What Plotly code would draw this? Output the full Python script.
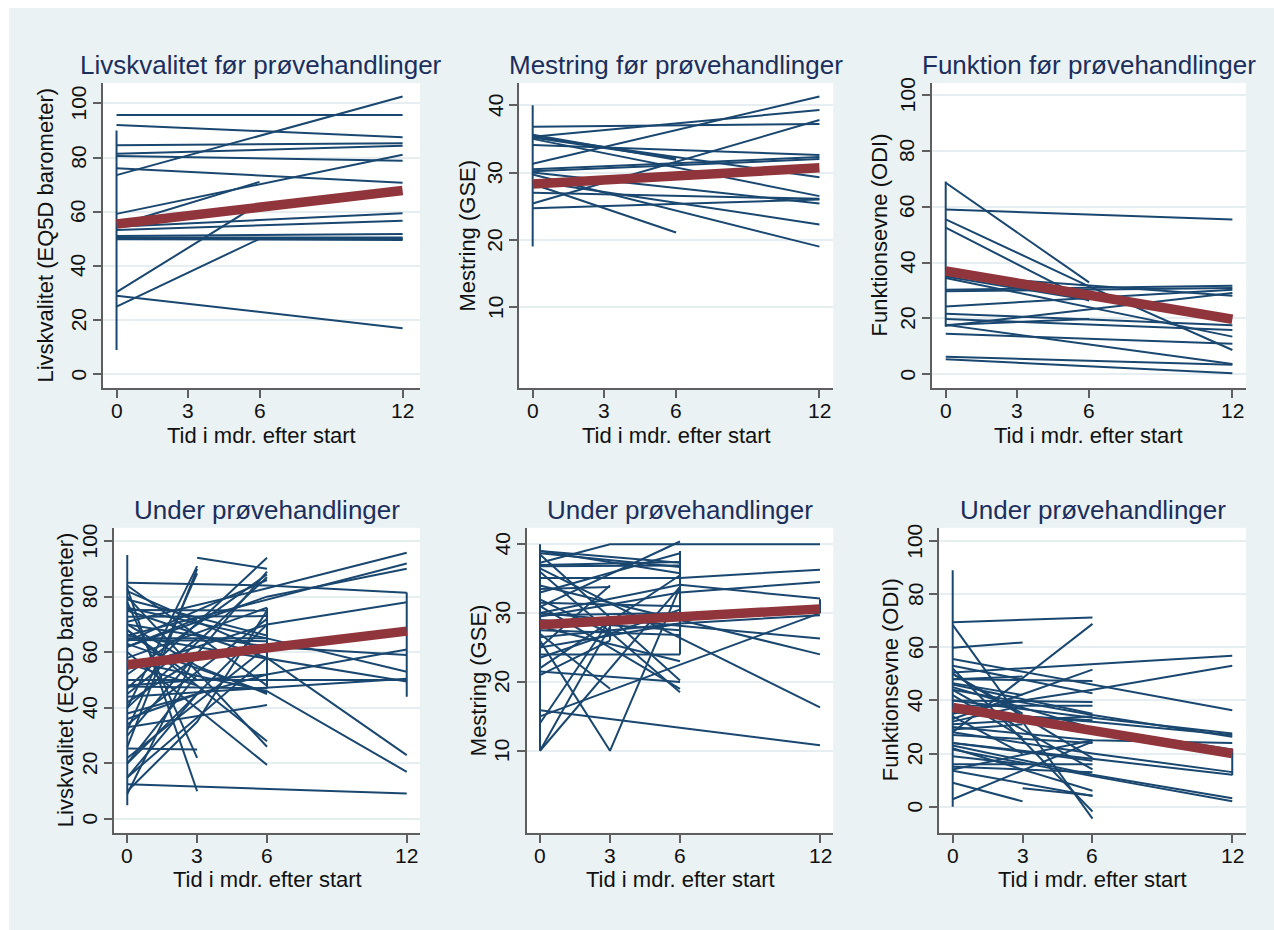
import plotly.graph_objects as go

W, H = 1274, 930
times = [0, 3, 6, 12]
mean_times = [0, 12]

# ---- values per subject at months 0, 3, 6, 12 (None = not measured) ----
lq_pre = [
    [95.7, None, None, 95.7], [92.0, None, None, 87.5], [73.5, None, None, 102.5],
    [84.5, None, None, 85.3], [81.4, None, None, 84.3], [80.6, None, None, 78.8],
    [76.0, None, None, 70.7], [59.2, None, None, 81.0], [55.0, None, 71.0, None],
    [54.5, None, None, 59.4], [53.3, None, None, 56.7], [51.0, None, None, 51.8],
    [50.5, None, None, 50.5], [50.0, None, None, 50.0], [49.8, None, None, 49.6],
    [30.3, None, 63.0, None], [25.0, None, 50.0, 50.0], [29.0, None, None, 17.0],
]
lq_pre_vert = [(0, 9, 90)]
lq_pre_mean = [55.5, 67.8]

gse_pre = [
    [36.8, None, None, 37.2], [35.3, None, None, 39.3], [31.3, None, None, 41.3],
    [25.4, None, None, 37.8], [34.1, None, None, 32.6], [30.5, None, None, 32.3],
    [35.2, None, 32.1, None], [35.6, None, 31.9, None], [35.3, None, None, 29.3],
    [35.0, None, None, 26.5], [30.0, None, None, 25.4], [27.0, None, None, 26.1],
    [24.7, None, None, 26.0], [29.7, None, None, 19.0], [28.7, None, None, 22.3],
    [28.3, None, 21.1, None], [30.2, None, None, 32.0],
]
gse_pre_vert = [(0, 19, 40)]
gse_pre_mean = [28.3, 30.7]

odi_pre = [
    [68.6, None, 32.9, None], [59.0, None, None, 55.4], [55.5, None, 31.5, 8.7],
    [52.5, None, 26.3, None], [35.0, None, 26.6, None], [30.3, None, None, 31.7],
    [29.7, None, None, 30.9], [34.5, None, None, 13.5], [35.5, None, None, 28.1],
    [24.3, None, None, 30.3], [17.4, None, None, 29.1], [17.7, None, 19.8, None],
    [21.7, None, None, 17.6], [19.8, None, None, 15.9], [14.5, None, None, 10.9],
    [17.7, None, None, 3.7], [6.3, None, None, 3.4], [5.4, None, None, 0.4],
]
odi_pre_vert = [(0, 17, 69)]
odi_pre_mean = [37.0, 19.7]

lq_dur = [
    [71.0, None, 83.0, 95.8], [66.0, None, 79.0, 91.9], [62.0, None, 80.0, 90.0],
    [85.0, None, 84.0, 81.4], [54.0, None, 70.0, 78.0], [48.0, None, 52.0, 61.0],
    [70.0, None, 62.0, 59.0], [76.0, None, 65.0, 53.0], [50.0, None, 50.0, 50.0],
    [44.0, None, None, 50.5], [66.0, None, None, 49.5], [75.0, None, 58.0, 23.0],
    [57.0, None, 46.0, 17.0], [12.5, None, None, 9.2], [47.0, None, 94.0, None],
    [None, 94.0, 90.0, None], [30.0, None, 89.0, None], [52.0, None, 88.0, None],
    [40.0, None, 87.0, None], [64.0, None, 86.0, None], [58.0, None, 76.0, None],
    [75.2, None, 75.0, None], [72.8, None, 73.0, None], [34.0, None, 72.0, None],
    [20.0, None, 70.0, None], [65.0, None, 65.0, None], [64.4, None, 64.0, None],
    [82.0, None, 60.0, None], [15.0, None, 58.0, None], [84.0, None, 48.0, None],
    [63.0, None, 45.5, None], [33.0, None, 41.0, None], [68.0, None, 28.0, None],
    [80.0, None, 26.0, None], [60.0, None, 19.5, None], [47.7, None, 47.0, None],
    [40.0, 91.0, None, None], [26.0, 90.0, None, None], [32.0, 88.4, None, None],
    [25.4, 25.0, None, None], [78.0, 22.0, None, None], [83.0, 10.0, None, None],
    [9.0, 60.0, None, None], [20.0, 52.0, None, None], [62.0, 72.0, None, None],
    [45.0, 65.0, None, None], [15.0, 45.0, None, None], [10.0, 35.0, 75.0, None],
    [70.0, 55.0, 45.0, None], [56.0, 48.0, None, None], [38.0, None, 52.0, None],
    [79.0, None, 66.0, None], [42.0, 58.0, None, None], [68.0, 50.0, None, None],
    [22.0, None, 62.0, None], [36.0, 45.0, None, None],
]
lq_dur_vert = [(0, 5, 95), (6, 47, 76), (12, 44, 81.5)]
lq_dur_mean = [55.5, 67.6]

gse_dur = [
    [37.3, 40.0, None, 40.0], [30.9, None, 40.4, None], [39.0, None, 37.3, None],
    [38.7, None, 36.7, None], [37.0, None, 37.4, None], [39.0, None, 35.8, None],
    [26.0, 10.0, 33.8, None], [10.0, None, 33.8, None], [10.0, 28.0, None, None],
    [15.9, None, None, 10.8], [36.5, None, None, 16.3], [34.0, None, None, 24.0],
    [30.0, None, None, 26.3], [29.5, None, 33.0, 34.5], [35.1, None, 35.1, 36.3],
    [30.0, None, 34.1, 32.1], [15.0, None, None, 30.0], [25.0, None, 28.5, 29.7],
    [27.0, 19.0, None, None], [31.0, None, 19.0, None], [36.0, None, 18.5, None],
    [38.5, None, 20.2, None], [28.0, None, 23.0, None], [24.0, None, 24.0, None],
    [33.0, None, 38.7, None], [22.0, None, 35.5, None], [29.0, None, 27.5, None],
    [26.5, None, 28.5, None], [23.5, None, 30.5, None], [32.0, 27.0, None, None],
    [21.0, 26.0, None, None], [14.0, 29.0, None, None], [36.8, None, 36.9, None],
    [27.5, None, 26.8, None], [25.0, 34.0, None, None], [31.5, None, 31.0, None],
    [29.7, None, 30.0, None], [21.5, None, 20.0, None], [33.5, 33.8, None, None],
]
gse_dur_vert = [(0, 10, 40), (3, 26, 29), (6, 24, 39), (12, 30, 32)]
gse_dur_mean = [28.3, 30.6]

odi_dur = [
    [69.4, None, 71.2, None], [68.4, None, -4.5, None], [28.0, None, 68.8, None],
    [59.8, 61.8, None, None], [50.5, None, None, 56.8], [55.6, None, None, 36.3],
    [35.0, 40.0, 44.0, 53.0], [33.0, None, 51.6, None], [52.0, None, -1.8, None],
    [9.0, 2.0, None, None], [2.8, None, 24.5, None], [None, 6.9, 4.2, None],
    [23.0, None, 12.0, 3.2], [21.5, None, 11.5, 2.0], [28.0, None, 20.0, 13.0],
    [24.0, None, 18.0, 12.0], [40.0, None, 33.5, 27.5], [36.0, None, 32.0, 27.0],
    [44.0, None, 34.5, 26.3], [30.0, None, 25.0, 24.0], [38.0, None, 29.5, 21.5],
    [48.0, None, 47.3, None], [53.0, None, 42.7, None], [40.0, None, 39.4, None],
    [46.0, None, 35.0, None], [31.0, None, 34.0, None], [35.5, None, 32.5, None],
    [45.0, None, 29.5, None], [14.0, None, 25.0, None], [27.0, None, 24.0, None],
    [50.0, None, 18.3, None], [24.0, None, 17.3, None], [16.0, None, 16.0, None],
    [44.0, None, 14.0, None], [15.0, None, 13.0, None], [22.0, None, 6.0, None],
    [13.5, None, 4.0, None], [48.0, 49.0, None, None], [46.5, 42.0, None, None],
    [34.0, 20.0, None, None], [32.0, 38.0, None, None], [42.0, 26.0, None, None],
    [29.0, 31.0, None, None], [19.0, 16.0, None, None], [38.0, None, 38.0, None],
    [50.0, 35.0, None, None],
]
odi_dur_vert = [(0, 0, 89), (12, 11.8, 21.8)]
odi_dur_mean = [37.3, 20.0]

titles = ["Livskvalitet før prøvehandlinger", "Mestring før prøvehandlinger",
          "Funktion før prøvehandlinger", "Under prøvehandlinger",
          "Under prøvehandlinger", "Under prøvehandlinger"]
ytitles = ["Livskvalitet (EQ5D barometer)", "Mestring (GSE)", "Funktionsevne (ODI)",
           "Livskvalitet (EQ5D barometer)", "Mestring (GSE)", "Funktionsevne (ODI)"]
xtitle = "Tid i mdr. efter start"
x_ticks = [0, 3, 6, 12]
y_ticks_100 = [0, 20, 40, 60, 80, 100]
y_ticks_gse = [10, 20, 30, 40]

NAVY = "#1A476F"
MAROON = "#90353B"
BG = "#EAF2F3"
GRID = "#E6EEF1"
AXIS_C = "#5F5F5F"
TITLE_C = "#1C2E5C"
TEXT_C = "#111111"
FONT = "Liberation Sans, Arial, Helvetica, sans-serif"

# panel geometry in pixels: (left, right, top, bottom), axis ranges
panels = [
    dict(rows=lq_pre, vert=lq_pre_vert, mean=lq_pre_mean, box=(102.7, 420, 83, 388),
         xr=[-0.58, 12.73], yr=[-5.05, 107.5], yt=y_ticks_100, ytx=45),
    dict(rows=gse_pre, vert=gse_pre_vert, mean=gse_pre_mean, box=(519.3, 833.3, 83, 388),
         xr=[-0.56, 12.58], yr=[-2.0, 43.3], yt=y_ticks_gse, ytx=467),
    dict(rows=odi_pre, vert=odi_pre_vert, mean=odi_pre_mean, box=(931.7, 1246, 83, 388),
         xr=[-0.586, 12.57], yr=[-4.9, 104.3], yt=y_ticks_100, ytx=879),
    dict(rows=lq_dur, vert=lq_dur_vert, mean=lq_dur_mean, box=(114, 420, 527.7, 832.7),
         xr=[-0.57, 12.57], yr=[-4.9, 104.8], yt=y_ticks_100, ytx=65),
    dict(rows=gse_dur, vert=gse_dur_vert, mean=gse_dur_mean, box=(526.7, 833.3, 527.7, 832.7),
         xr=[-0.57, 12.57], yr=[-1.9, 42.4], yt=y_ticks_gse, ytx=478),
    dict(rows=odi_dur, vert=odi_dur_vert, mean=odi_dur_mean, box=(939.3, 1246, 527.7, 832.7),
         xr=[-0.575, 12.59], yr=[-9.8, 105.0], yt=y_ticks_100, ytx=890),
]


def spaghetti(rows, vert):
    xs, ys = [], []
    for r in rows:
        for t, v in zip(times, r):
            if v is not None:
                xs.append(t)
                ys.append(v)
        xs.append(None)
        ys.append(None)
    for t, lo, hi in vert:
        xs += [t, t, None]
        ys += [lo, hi, None]
    return xs, ys


fig = go.Figure()
annotations = []
shapes = [dict(type="rect", xref="paper", yref="paper", x0=9 / W, x1=1.0, y0=0.0,
               y1=1 - 8 / H, fillcolor=BG, line=dict(width=0), layer="below")]

for i, p in enumerate(panels):
    n = i + 1
    xa = "x" if n == 1 else f"x{n}"
    ya = "y" if n == 1 else f"y{n}"
    xs, ys = spaghetti(p["rows"], p["vert"])
    fig.add_trace(go.Scatter(x=xs, y=ys, mode="lines", xaxis=xa, yaxis=ya,
                             line=dict(color=NAVY, width=2), connectgaps=False,
                             hoverinfo="skip", showlegend=False))
    fig.add_trace(go.Scatter(x=mean_times, y=p["mean"], mode="lines", xaxis=xa, yaxis=ya,
                             line=dict(color=MAROON, width=9.5), showlegend=False))
    l, r, t, b = p["box"]
    xd = [l / W, r / W]
    yd = [1 - b / H, 1 - t / H]
    axis_common = dict(showline=True, linecolor=AXIS_C, linewidth=2,
                       ticks="outside", ticklen=8, tickwidth=2, tickcolor=AXIS_C,
                       zeroline=False, showticklabels=False)
    fig.update_layout(**{
        ("xaxis" if n == 1 else f"xaxis{n}"): dict(
            domain=xd, range=p["xr"], tickvals=x_ticks, showgrid=False,
            anchor=ya, **axis_common),
        ("yaxis" if n == 1 else f"yaxis{n}"): dict(
            domain=yd, range=p["yr"], tickvals=p["yt"], showgrid=True,
            gridcolor=GRID, gridwidth=2, anchor=xa, **axis_common),
    })
    # plot area background
    shapes.append(dict(type="rect", xref="paper", yref="paper", x0=xd[0], x1=xd[1],
                       y0=yd[0], y1=yd[1], fillcolor="white", line=dict(width=0),
                       layer="below"))
    # tick labels placed explicitly (Stata-like spacing)
    for tv in x_ticks:
        annotations.append(dict(text=str(tv), x=tv, xref=xa, y=1 - (b + 22.5) / H,
                                yref="paper", showarrow=False, xanchor="center",
                                yanchor="middle",
                                font=dict(size=21, color=TEXT_C, family=FONT)))
    for tv in p["yt"]:
        annotations.append(dict(text=str(tv), x=(l - 24.5) / W, xref="paper", y=tv,
                                yref=ya, showarrow=False, xanchor="center",
                                yanchor="middle", textangle=-90,
                                font=dict(size=21, color=TEXT_C, family=FONT)))
    cx = (l + r) / 2 / W
    annotations.append(dict(text=titles[i], x=cx, y=1 - (t - 18) / H, xref="paper",
                            yref="paper", showarrow=False, xanchor="center",
                            yanchor="middle", font=dict(size=26, color=TITLE_C, family=FONT)))
    annotations.append(dict(text=xtitle, x=cx, y=1 - (b + 47) / H, xref="paper",
                            yref="paper", showarrow=False, xanchor="center",
                            yanchor="middle", font=dict(size=22, color=TEXT_C, family=FONT)))
    annotations.append(dict(text=ytitles[i], x=p["ytx"] / W, y=1 - (t + b) / 2 / H,
                            xref="paper", yref="paper", showarrow=False, textangle=-90,
                            xanchor="center", yanchor="middle",
                            font=dict(size=22, color=TEXT_C, family=FONT)))

fig.update_layout(width=W, height=H, margin=dict(l=0, r=0, t=0, b=0),
                  paper_bgcolor="white", plot_bgcolor="rgba(0,0,0,0)",
                  font=dict(family=FONT), annotations=annotations, shapes=shapes,
                  showlegend=False)

fig.write_html("out.html", config={"displayModeBar": False},
               post_script="document.body.style.margin='0';"
                           "document.body.style.overflow='hidden';")
